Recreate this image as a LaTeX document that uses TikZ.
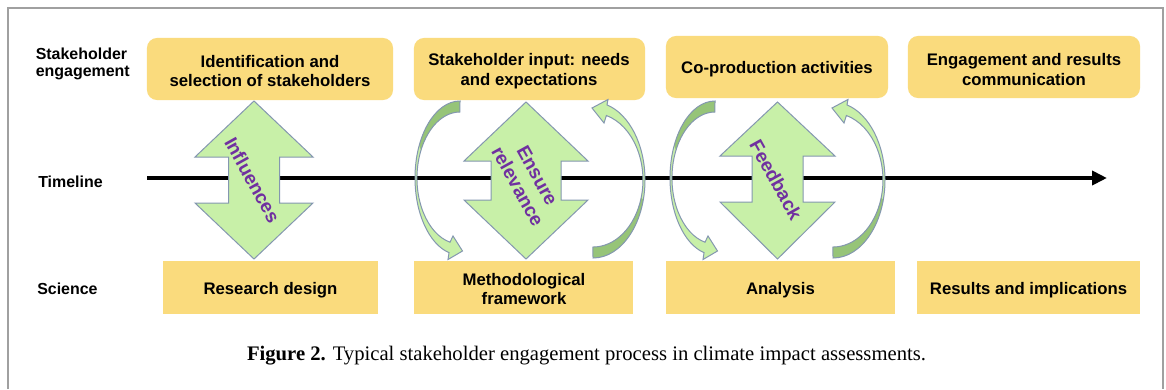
\documentclass[tikz,border=0pt]{standalone}
\usepackage{fontspec}
\setmainfont{Liberation Sans}
\newfontfamily\capfont{Liberation Serif}
\usetikzlibrary{arrows.meta,calc}
\definecolor{boxyellow}{RGB}{250,219,125}
\definecolor{argreen}{RGB}{200,240,168}
\definecolor{dkgreen}{RGB}{150,196,120}
\definecolor{edgec}{RGB}{132,151,176}
\definecolor{purp}{RGB}{112,48,160}
\definecolor{framec}{RGB}{160,160,160}
\tikzset{
  topbox/.style={fill=boxyellow, rounded corners=0.25cm, inner sep=0pt},
  botbox/.style={fill=boxyellow, inner sep=0pt},
  boxtext/.style={inner sep=0pt, align=center,
     font=\fontsize{11.9}{14.2}\selectfont\bfseries},
  rowlbl/.style={anchor=west, inner sep=0pt, align=left,
     font=\fontsize{11.35}{12.1}\selectfont\bfseries},
  purptext/.style={text=purp, inner sep=0pt, align=center, rotate=-61,
     font=\fontsize{13.5}{15.9}\selectfont\bfseries},
  dblarrow/.style={fill=argreen, draw=edgec, line width=0.025cm, line join=miter},
  curvefill/.style={fill=argreen},
  curvedark/.style={fill=dkgreen},
  curveline/.style={draw=edgec, line width=0.025cm},
}
% double arrow: cx, ytop, yheadbase1, yheadbase2, ybot, headhalf, shafthalf
\newcommand\DblArr[7]{%
  \path[dblarrow] (#1,#2) -- (#1+#6,#3) -- (#1+#7,#3) -- (#1+#7,#4) -- (#1+#6,#4)
    -- (#1,#5) -- (#1-#6,#4) -- (#1-#7,#4) -- (#1-#7,#3) -- (#1-#6,#3) -- cycle;}
\newcommand\CLshape{(460,101) arc[start angle=270,end angle=104.1,x radius=45,y radius=77]
   -- (448,259.5) -- (462.5,251) -- (453,236) -- (450,242.2)
   arc[start angle=103.4,end angle=270,x radius=43,y radius=66] -- cycle}
\newcommand\CLdark{(460,101) arc[start angle=270,end angle=205,x radius=45,y radius=77]
   -- (421.0,150.1) arc[start angle=205,end angle=270,x radius=43,y radius=66] -- cycle}
\newcommand\CRshape{(593,258) arc[start angle=90,end angle=-74.4,x radius=52,y radius=78]
   -- (608,99.5) -- (592,108) -- (604,123) -- (606.4,115.5)
   arc[start angle=-74.4,end angle=90,x radius=50,y radius=67] -- cycle}
\newcommand\CRdark{(593,258) arc[start angle=90,end angle=15,x radius=52,y radius=78]
   -- (641.3,197.3) arc[start angle=15,end angle=90,x radius=50,y radius=67] -- cycle}
\newcommand\CurveL{\path[curvefill] \CLshape; \path[curvedark] \CLdark; \path[curveline] \CLshape;}
\newcommand\CurveR{\path[curvefill] \CRshape; \path[curvedark] \CRdark; \path[curveline] \CRshape;}

\begin{document}
\begin{tikzpicture}[x=0.025cm,y=-0.025cm]
\useasboundingbox (0,0) rectangle (1166,389);
\fill[white] (0,0) rectangle (1166,389);
\draw[framec, line width=0.0325cm] (8,389) -- (8,8) -- (1163,8) -- (1163,389);

% row labels
\node[rowlbl] (lstake) at (35.5,63.5) {Stakeholder\\engagement};
\node[rowlbl] (ltime) at (38,182) {Timeline};
\node[rowlbl] (lsci) at (37,289) {Science};

% top boxes
\node[topbox, minimum width=6.15cm, minimum height=1.55cm] (t1) at (270,69) {};
\node[topbox, minimum width=5.775cm, minimum height=1.55cm] (t2) at (529.5,69) {};
\node[topbox, minimum width=5.55cm, minimum height=1.55cm] (t3) at (777,67) {};
\node[topbox, minimum width=5.8cm, minimum height=1.55cm] (t4) at (1024,67) {};
\node[boxtext] (t1x) at (270,71) {Identification and\\selection of stakeholders};
\node[boxtext] (t2x) at (529,71) {Stakeholder input: needs\\and expectations};
\node[boxtext] (t3x) at (777,69.5) {Co-production activities};
\node[boxtext] (t4x) at (1024,69.5) {Engagement and results\\communication};

% bottom boxes
\node[botbox, minimum width=5.375cm, minimum height=1.325cm] (s1) at (270.5,287.5) {};
\node[botbox, minimum width=5.475cm, minimum height=1.325cm] (s2) at (523.5,287.5) {};
\node[botbox, minimum width=5.725cm, minimum height=1.325cm] (s3) at (780.5,287.5) {};
\node[botbox, minimum width=5.575cm, minimum height=1.325cm] (s4) at (1028.5,287.5) {};
\node[boxtext] (s1x) at (270.5,290) {Research design};
\node[boxtext] (s2x) at (524,289) {Methodological\\framework};
\node[boxtext] (s3x) at (780.5,290) {Analysis};
\node[boxtext] (s4x) at (1028.5,290) {Results and implications};

% timeline
\coordinate (tl0) at (147,178);
\coordinate (tl1) at (1107,178);
\draw[line width=0.1cm, -{Triangle[length=0.375cm,width=0.35cm]}] (tl0) -- (tl1);

% double arrows
\DblArr{254}{101}{157}{203}{259}{59}{25.5}
\DblArr{526}{102}{161}{200}{259}{62}{35}
\DblArr{777.5}{102}{156}{202}{259}{57.5}{25.5}

% curved arrows
\CurveL
\CurveR
\begin{scope}[shift={(255,0)}]\CurveL\end{scope}
\begin{scope}[shift={(240,0)}]\CurveR\end{scope}

% arrow labels
\node[purptext] (inf) at (252.5,180) {Influences};
\node[purptext] (ens) at (527.5,181) {Ensure\\relevance};
\node[purptext] (fb) at (776,180) {Feedback};

% caption
\node[anchor=base, inner sep=0pt] (cap) at (586.5,360) {\capfont\fontsize{14.7}{17}\selectfont\textbf{Figure 2.} Typical stakeholder engagement process in climate impact assessments.};
\end{tikzpicture}
\end{document}
